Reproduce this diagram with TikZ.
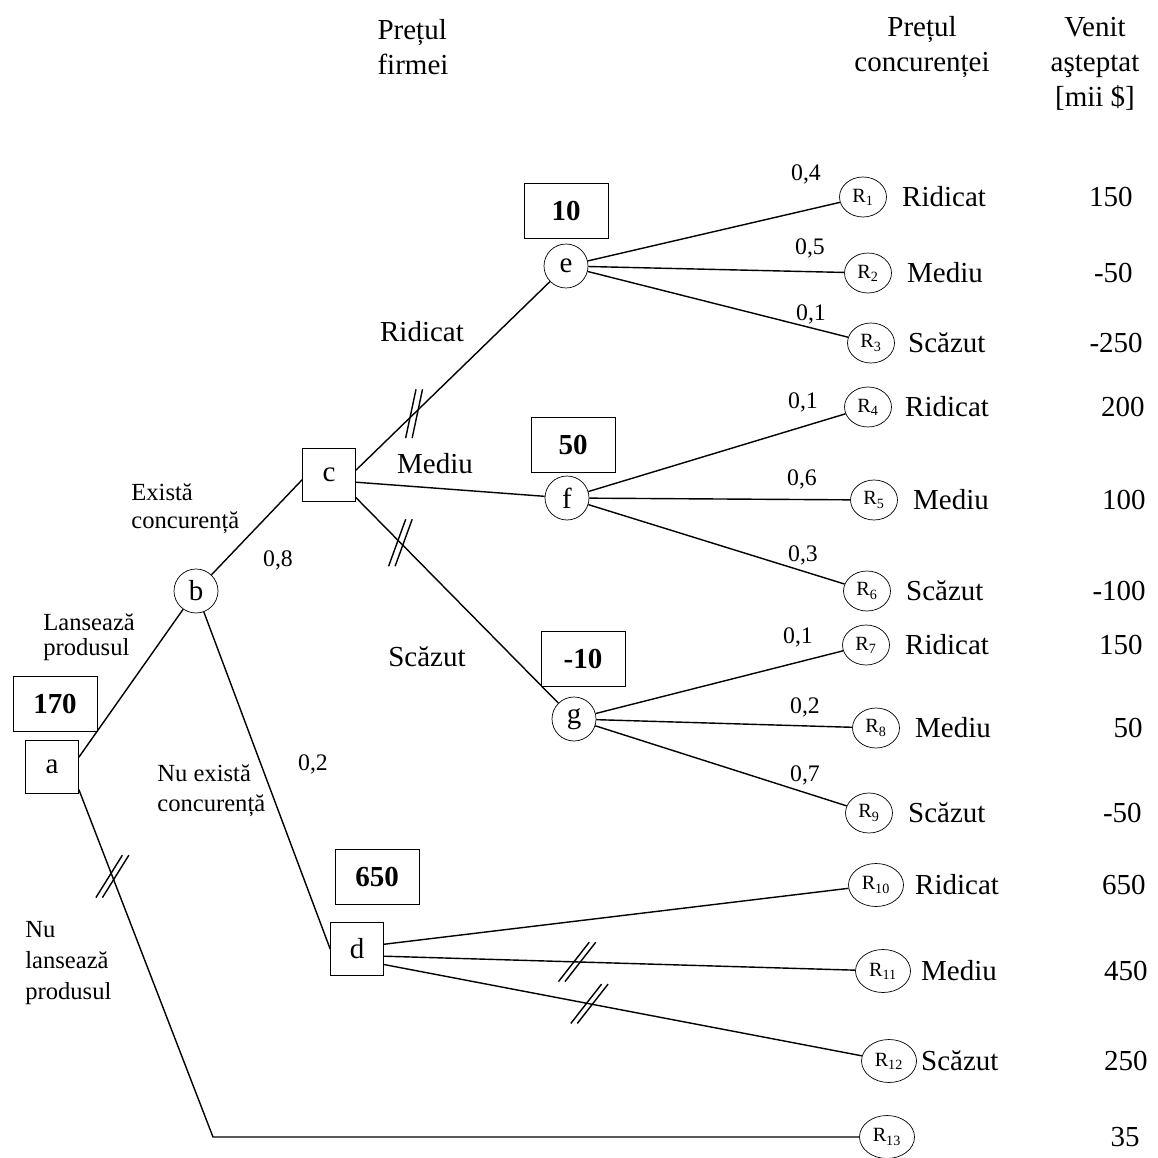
\documentclass[tikz,border=0pt]{standalone}
\usepackage{fontspec}
\setmainfont{Liberation Serif}
\usetikzlibrary{positioning}
\usetikzlibrary{shapes.geometric}

\tikzset{
	decision/.style={draw, minimum size=1.06cm, inner sep=0pt, font=\fontsize{16.5}{19}\selectfont},
	chance/.style={draw, circle, minimum size=0.88cm, inner sep=0pt, font=\fontsize{16.5}{19}\selectfont},
	outcome/.style={draw, ellipse, minimum width=0.94cm, minimum height=0.8cm, inner sep=0pt, font=\fontsize{11.5}{13}\selectfont},
	bigoutcome/.style={outcome, minimum width=1.1cm, minimum height=0.86cm},
	worth/.style={draw, minimum width=1.68cm, minimum height=1.1cm, font=\bfseries\fontsize{16.5}{19}\selectfont},
	lbl/.style={inner sep=0pt, font=\fontsize{16.5}{19.8}\selectfont},
	note/.style={inner sep=0pt, align=left, font=\fontsize{14}{#1}\selectfont},
	prob/.style={inner sep=0pt, font=\fontsize{13.5}{15}\selectfont},
	branch/.style={line width=0.8pt},
	pics/cut/.style={code={
		\draw [line width=0.8pt] (-0.065cm,0cm) ++(#1:0.5cm) -- ++(#1+180:1cm);
		\draw [line width=0.8pt] (0.065cm,0cm) ++(#1:0.5cm) -- ++(#1+180:1cm);
	}}
}

\begin{document}
\begin{tikzpicture}[x=0.02cm, y=-0.02cm]

	\useasboundingbox (0,0) rectangle (1157,1158);

	% column heads
	\node [lbl, align=left] (firmHead) at (413,47) {Prețul\\firmei};
	\node [lbl, align=center] (rivalHead) at (922,47) {Prețul\\concurenței};
	\node [lbl, align=center] (incomeHead) at (1095,64) {Venit\\aşteptat\\{[mii \$]}};

	% decision and chance nodes
	\node [decision] (a) at (52,767) {a};
	\node [worth] (wa) at (55,704) {170};
	\node [chance] (b) at (196,591) {b};
	\node [decision] (c) at (329,475) {c};
	\node [decision] (d) at (357,949) {d};
	\node [worth] (wd) at (377,877) {650};
	\node [chance] (e) at (566,266) {e};
	\node [worth] (we) at (566,211) {10};
	\node [chance] (f) at (567,498) {f};
	\node [worth] (wf) at (573,445) {50};
	\node [chance] (g) at (574,719) {g};
	\node [worth] (wg) at (583,659) {-10};

	% results, price of the rival and expected income
	\foreach \n/\x/\y/\t/\gap/\v/\vx in {
		1/863/197/Ridicat/0.3/150/1133,
		2/868/273/Mediu/0.3/-50/1133,
		3/871/343/Scăzut/0.26/-250/1143,
		4/868/407/Ridicat/0.26/200/1145,
		5/874/500/Mediu/0.3/100/1146,
		6/867/591/Scăzut/0.3/-100/1146,
		7/866/645/Ridicat/0.3/150/1143,
		8/876/728/Mediu/0.3/50/1143,
		9/869/813/Scăzut/0.3/-50/1142}
	{
		\node [outcome] (R\n) at (\x,\y) {R\textsubscript{\n}};
		\node [lbl, right=\gap cm of R\n] (p\n) {\t};
		\node [lbl, anchor=east] (v\n) at (\vx,\y) {\v};
	}
	\foreach \n/\x/\y/\t/\gap/\v/\vx in {
		10/876/885/Ridicat/0.22/650/1146,
		11/883/971/Mediu/0.2/450/1148,
		12/889/1061/Scăzut/0.08/250/1148}
	{
		\node [bigoutcome] (R\n) at (\x,\y) {R\textsubscript{\n}};
		\node [lbl, right=\gap cm of R\n] (p\n) {\t};
		\node [lbl, anchor=east] (v\n) at (\vx,\y) {\v};
	}
	\node [bigoutcome] (R13) at (887,1137) {R\textsubscript{13}};
	\node [lbl, anchor=east] (v13) at (1140,1137) {35};
	\coordinate (k) at (213,1137);

	% branches
	\draw [branch] (a.20) -- (b);
	\draw [branch] (a.-40) -- pic [pos=.25] {cut=58} (k) -- (R13);
	\draw [branch] (b) -- (c.190);
	\draw [branch] (b) -- (d.west);
	\draw [branch] (c.10) -- pic [pos=.3] {cut=78} (e);
	\draw [branch] (c.-15) -- (f);
	\draw [branch] (c.-40) -- pic [pos=.22] {cut=70} (g);
	\foreach \i in {1,2,3} \draw [branch] (e) -- (R\i);
	\foreach \i in {4,5,6} \draw [branch] (f) -- (R\i);
	\foreach \i in {7,8,9} \draw [branch] (g) -- (R\i);
	\draw [branch] (d.10) -- (R10);
	\draw [branch] (d.-15) -- pic [pos=.41] {cut=52} (R11);
	\draw [branch] (d.-30) -- pic [pos=.43] {cut=52} (R12);

	% branch texts
	\node [note=14.5, anchor=west] (launch) at (43,637) {Lansează\\produsul};
	\node [note=16, anchor=west] (rivalYes) at (131,509) {Există\\concurență};
	\node [note=17, anchor=west] (rivalNo) at (157,791) {Nu există\\concurență};
	\node [note=17.6, anchor=west] (noLaunch) at (25,963) {Nu\\lansează\\produsul};
	\node [prob] (q1) at (278,560) {0,8};
	\node [prob] (q2) at (313,764) {0,2};
	\node [lbl] (high) at (422,332) {Ridicat};
	\node [lbl] (mid) at (435,464) {Mediu};
	\node [lbl] (low) at (427,657) {Scăzut};

	% probabilities of the rival price
	\foreach \x/\y/\t in {806/174/{0,4}, 810/248/{0,5}, 811/314/{0,1}, 803/402/{0,1}, 802/479/{0,6}, 803/555/{0,3}, 798/637/{0,1}, 805/707/{0,2}, 805/775/{0,7}}
		\node [prob] at (\x,\y) {\t};

\end{tikzpicture}
\end{document}
